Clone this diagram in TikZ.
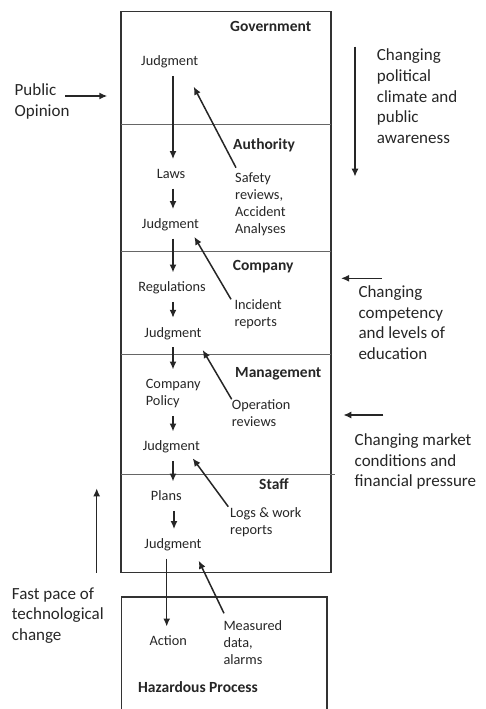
\documentclass[tikz,border=0pt]{standalone}
\usepackage{fontspec}
\setmainfont{Carlito}
\usetikzlibrary{positioning,arrows.meta}

\begin{document}
\begin{tikzpicture}[
    x=1pt, y=-1pt,
    >={Latex[length=8pt,width=7pt]},
    stage/.style={
        font=\fontsize{14.3}{17}\selectfont,
        text=black!85,
        anchor=base,
        inner xsep=2pt,
        inner ysep=7pt,
        text height=12pt,
        text depth=3pt
    },
    layer/.style={
        font=\bfseries\fontsize{15.5}{18}\selectfont,
        text=black!85,
        anchor=base west,
        inner sep=0pt
    },
    report/.style={
        font=\fontsize{14.3}{17}\selectfont,
        text=black!85,
        align=left,
        anchor=base west,
        inner sep=0pt
    },
    pressure/.style={
        font=\fontsize{17}{20.7}\selectfont,
        text=black!85,
        align=left,
        anchor=base west,
        inner sep=0pt
    },
    flow/.style={->, line width=1.5pt, draw=black!85},
    frame/.style={line width=1.4pt, draw=black!80},
    divider/.style={line width=0.8pt, draw=black!60}
]
    \useasboundingbox (0,0) rectangle (485,709);

    % Frames and layer dividers
    \draw[frame] (121,11.5) rectangle (331,572.5);
    \draw[frame] (121.5,597) rectangle (327,730);
    \foreach \y/\xr in {124/331, 251/331, 354/331, 474/335}
        \draw[divider] (121,\y) -- (\xr,\y);

    % Layer titles
    \node[layer] (gov)   at (230,32)    {Government};
    \node[layer] (auth)  at (233,149.7) {Authority};
    \node[layer] (comp)  at (232.7,270) {Company};
    \node[layer] (mgmt)  at (235,377)   {Management};
    \node[layer] (staff) at (259,489)   {Staff};
    \node[layer] (proc)  at (138,692.7) {Hazardous Process};

    % Control chain (multi-line nodes sit on their last baseline)
    \coordinate (spine) at (173,0);
    \coordinate (drop) at (166.7,0);
    \node[stage] (j1)     at (169.7,65.7)  {Judgment};
    \node[stage] (laws)   at (171,178.3)   {Laws};
    \node[stage] (j2)     at (170.5,228.3) {Judgment};
    \node[stage] (regs)   at (172,291.7)   {Regulations};
    \node[stage] (j3)     at (173,337)     {Judgment};
    \node[stage, align=left, text height=29pt] (policy) at (173.2,405.7) {Company\\Policy};
    \node[stage] (j4)     at (171.3,450.7) {Judgment};
    \node[stage] (plans)  at (166.3,500.7) {Plans};
    \node[stage] (j5)     at (173,548.3)   {Judgment};
    \node[stage] (action) at (168.3,645.7) {Action};

    \draw[flow] (j1.south -| spine) -- (laws.north -| spine);
    \draw[flow] (laws.south -| spine) -- (j2.north -| spine);
    \draw[flow] (j2.south -| spine) -- (regs.north -| spine);
    \draw[flow] (regs.south -| spine) -- (j3.north -| spine);
    \draw[flow] (j3.south -| spine) -- (policy.north -| spine);
    \draw[flow] (policy.south -| spine) -- (j4.north -| spine);
    \draw[flow] (j4.south -| spine) -- (plans.north -| spine);
    \draw[flow] ([xshift=1pt]plans.south -| spine) -- ([xshift=1pt]j5.north -| spine);
    \draw[flow] (j5.south -| drop) -- (action.north -| drop);

    % Feedback reports
    \node[report] (safety)    at (235,233.7)   {Safety\\reviews,\\Accident\\Analyses};
    \node[report] (incident)  at (234.3,326.8) {Incident\\reports};
    \node[report] (operation) at (231.7,426.5) {Operation\\reviews};
    \node[report] (logs)      at (230,534)     {Logs \& work\\reports};
    \node[report] (measured)  at (223.3,664.5) {Measured\\data,\\alarms};

    \draw[flow] ([shift={(1,-66)}]safety.base west) -- ([shift={(24,21)}]j1.base);
    \draw[flow] ([shift={(-3.3,-27.5)}]incident.base west) -- ([shift={(23.8,8.5)}]j2.base);
    \draw[flow] ([shift={(0,-27.2)}]operation.base west) -- ([shift={(29.7,13)}]j3.base);
    \draw[flow] ([shift={(-1.7,-27.3)}]logs.base west) -- ([shift={(21.4,7.6)}]j4.base);
    \draw[flow] ([shift={(0.7,-51.2)}]measured.base west) -- ([shift={(25.7,12.4)}]j5.base);

    % Outside pressures
    \node[pressure] (public)     at (14.5,116.2)  {Public\\Opinion};
    \node[pressure] (climate)    at (376.7,143.5) {Changing\\political\\climate and\\public\\awareness};
    \node[pressure] (competency) at (358.3,359.6) {Changing\\competency\\and levels of\\education};
    \node[pressure] (market)     at (354.5,486.9) {Changing market\\conditions and\\financial pressure};
    \node[pressure] (pace)       at (11.7,640.4)  {Fast pace of\\technological\\change};

    \draw[flow] ([shift={(50.5,-20.2)}]public.base west) -- ++(42.3,0);
    \draw[flow] ([shift={(-21.7,-96.8)}]climate.base west) -- ++(0,130);
    \draw[flow] ([shift={(23.4,-81.3)}]competency.base west) -- ++(-40.7,0);
    \draw[flow] ([shift={(28.8,-71.9)}]market.base west) -- ++(-40,0);
    \draw[flow] ([shift={(85,-67.7)}]pace.base west) -- ++(0,-84.4);
\end{tikzpicture}
\end{document}
